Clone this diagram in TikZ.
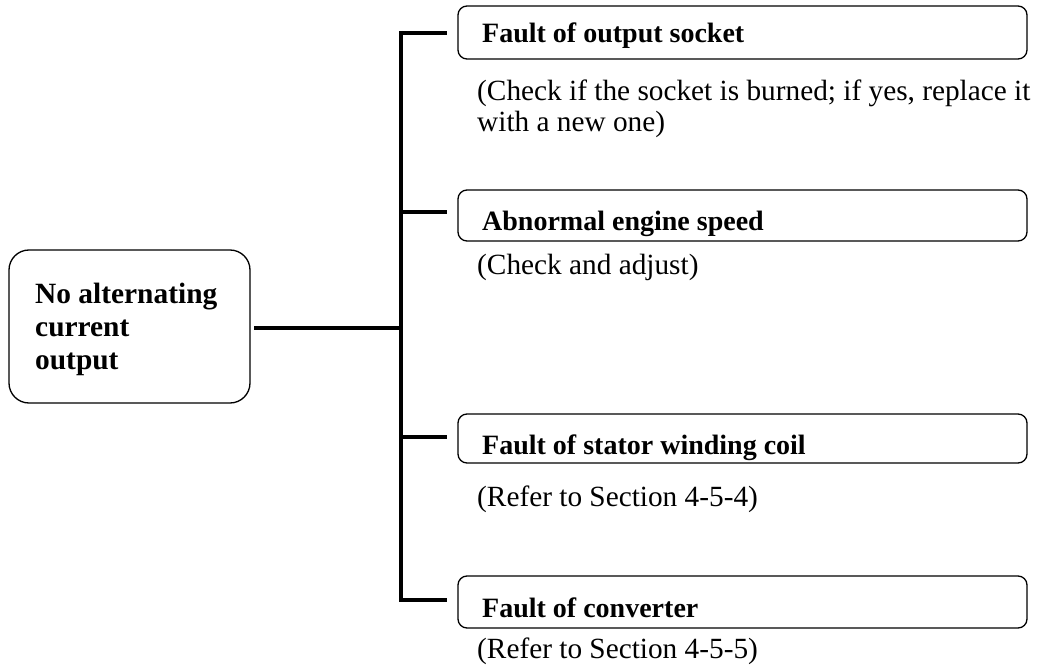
\documentclass[tikz,border=0pt]{standalone}
\usepackage{fontspec}
\setmainfont{Liberation Serif}
\begin{document}
\begin{tikzpicture}[x=1pt,y=-1pt,
  fbox/.style={draw,line width=1.3pt,rounded corners=9pt},
  rootbox/.style={draw,line width=1.3pt,rounded corners=20pt},
  btext/.style={anchor=base west,inner sep=0pt,font=\fontsize{28}{29}\selectfont\bfseries},
  dtext/.style={anchor=base west,inner sep=0pt,align=left,font=\fontsize{29.3}{31}\selectfont},
  conn/.style={line width=4pt}]
\useasboundingbox (0,0) rectangle (1044,668);
% root
\draw[rootbox] (9,250) rectangle (250,403);
\node[anchor=base west,inner sep=0pt,align=left,font=\fontsize{29.4}{33}\selectfont\bfseries] (root) at (35,369) {No alternating\\current\\output};
\coordinate (rootR) at (254,328);
\coordinate (busM) at (401,328);
\coordinate (busT) at (401,31);
\coordinate (busB) at (401,602);
% boxes
\draw[fbox] (458,6) rectangle (1027,59);
\node[btext] (b1) at (482,43) {Fault of output socket};
\node[dtext] (d1) at (477,132) {(Check if the socket is burned; if yes, replace it\\with a new one)};
\draw[fbox] (458,190) rectangle (1027,241);
\node[btext] (b2) at (482,231) {Abnormal engine speed};
\node[dtext] (d2) at (477,275) {(Check and adjust)};
\draw[fbox] (458,414) rectangle (1027,463);
\node[btext] (b3) at (482,454) {Fault of stator winding coil};
\node[dtext] (d3) at (477,506) {(Refer to Section 4-5-4)};
\draw[fbox] (458,576) rectangle (1027,628);
\node[btext] (b4) at (482,617) {Fault of converter};
\node[dtext] (d4) at (477,658) {(Refer to Section 4-5-5)};
% connectors
\coordinate (e1) at (447,33);
\coordinate (e2) at (447,212);
\coordinate (e3) at (447,437);
\coordinate (e4) at (447,600);
\draw[conn] (rootR) -- (busM);
\draw[conn] (busT) -- (busB);
\draw[conn] (401,33) -- (e1);
\draw[conn] (401,212) -- (e2);
\draw[conn] (401,437) -- (e3);
\draw[conn] (401,600) -- (e4);
\end{tikzpicture}
\end{document}
